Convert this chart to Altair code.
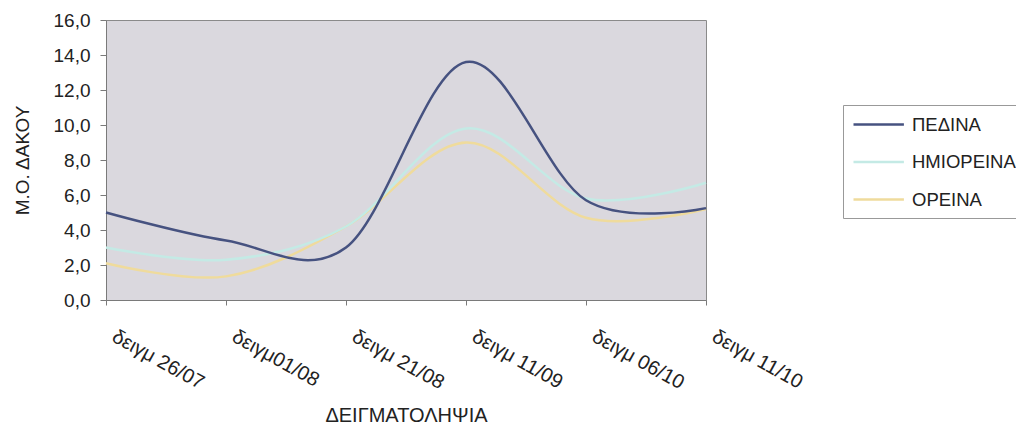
import altair as alt
import pandas as pd

# Sampling dates (x categories)
samples = ["δειγμ 26/07", "δειγμ01/08", "δειγμ 21/08", "δειγμ 11/09", "δειγμ 06/10", "δειγμ 11/10"]

# Mean catch per zone
series_names = ["ΠΕΔΙΝΑ", "ΗΜΙΟΡΕΙΝΑ", "ΟΡΕΙΝΑ"]
pedina = [5.0, 3.4, 3.0, 13.6, 5.7, 5.25]
imioreina = [3.0, 2.3, 4.2, 9.8, 5.8, 6.7]
oreina = [2.1, 1.35, 4.2, 9.0, 4.7, 5.2]

y_ticks = [0, 2, 4, 6, 8, 10, 12, 14, 16]
colors = ["#465280", "#c4eae5", "#efdb9c"]

rows = []
# lighter series first so the dark line is drawn on top
for name, vals in [("ΟΡΕΙΝΑ", oreina), ("ΗΜΙΟΡΕΙΝΑ", imioreina), ("ΠΕΔΙΝΑ", pedina)]:
    for s, v in zip(samples, vals):
        rows.append({"sample": s, "series": name, "value": v})
df = pd.DataFrame(rows)

font = "Liberation Sans"

# legend key: a 50px horizontal stroke starting at the entry's left edge
legend_key = "M-1,0H4.6"

chart = (
    alt.Chart(df)
    .mark_line(interpolate="cardinal", tension=0, strokeWidth=2.5)
    .encode(
        x=alt.X(
            "sample:N",
            sort=samples,
            scale=alt.Scale(type="point", padding=0),
            axis=alt.Axis(
                title="ΔΕΙΓΜΑΤΟΛΗΨΙΑ",
                labelAngle=29,
                labelAlign="left",
                labelBaseline="top",
                labelOffset=12,
                labelPadding=21,
                labelFontSize=20,
                tickSize=5,
                titleFontSize=20,
                titleFontWeight="normal",
                titleBaseline="alphabetic",
                titleY=121,
            ),
        ),
        y=alt.Y(
            "value:Q",
            scale=alt.Scale(domain=[0, 16], nice=False),
            axis=alt.Axis(
                title="Μ.Ο. ΔΑΚΟΥ",
                values=y_ticks,
                labelExpr="replace(format(datum.value, '.1f'), '.', ',')",
                labelFontSize=19,
                labelPadding=10,
                tickSize=6,
                grid=False,
                titleFontSize=19,
                titleFontWeight="normal",
                titlePadding=21,
            ),
        ),
        color=alt.Color(
            "series:N",
            sort=series_names,
            scale=alt.Scale(domain=series_names, range=colors),
            legend=alt.Legend(
                title=None,
                orient="none",
                legendX=737,
                legendY=85,
                symbolType=legend_key,
                symbolSize=324,
                symbolStrokeWidth=2.5,
                labelFontSize=18.5,
                labelColor="#222222",
                strokeColor="#999999",
                fillColor="#ffffff",
                padding=9,
                rowPadding=17.5,
                labelOffset=39,
            ),
        ),
    )
    .properties(
        width=600,
        height=280,
        padding={"left": 106, "top": 20, "right": 310, "bottom": 130},
        autosize=alt.AutoSizeParams(type="none"),
    )
    .configure(font=font, background="#ffffff")
    .configure_view(fill="#dad8de", stroke="#8a8a8a", strokeWidth=1)
    .configure_axis(
        domainColor="#7a7a7a",
        tickColor="#7a7a7a",
        labelColor="#222222",
        titleColor="#222222",
        labelFont=font,
        titleFont=font,
    )
    .configure_legend(labelFont=font)
)

chart.save("out.html", embed_options={"renderer": "svg", "actions": False})
